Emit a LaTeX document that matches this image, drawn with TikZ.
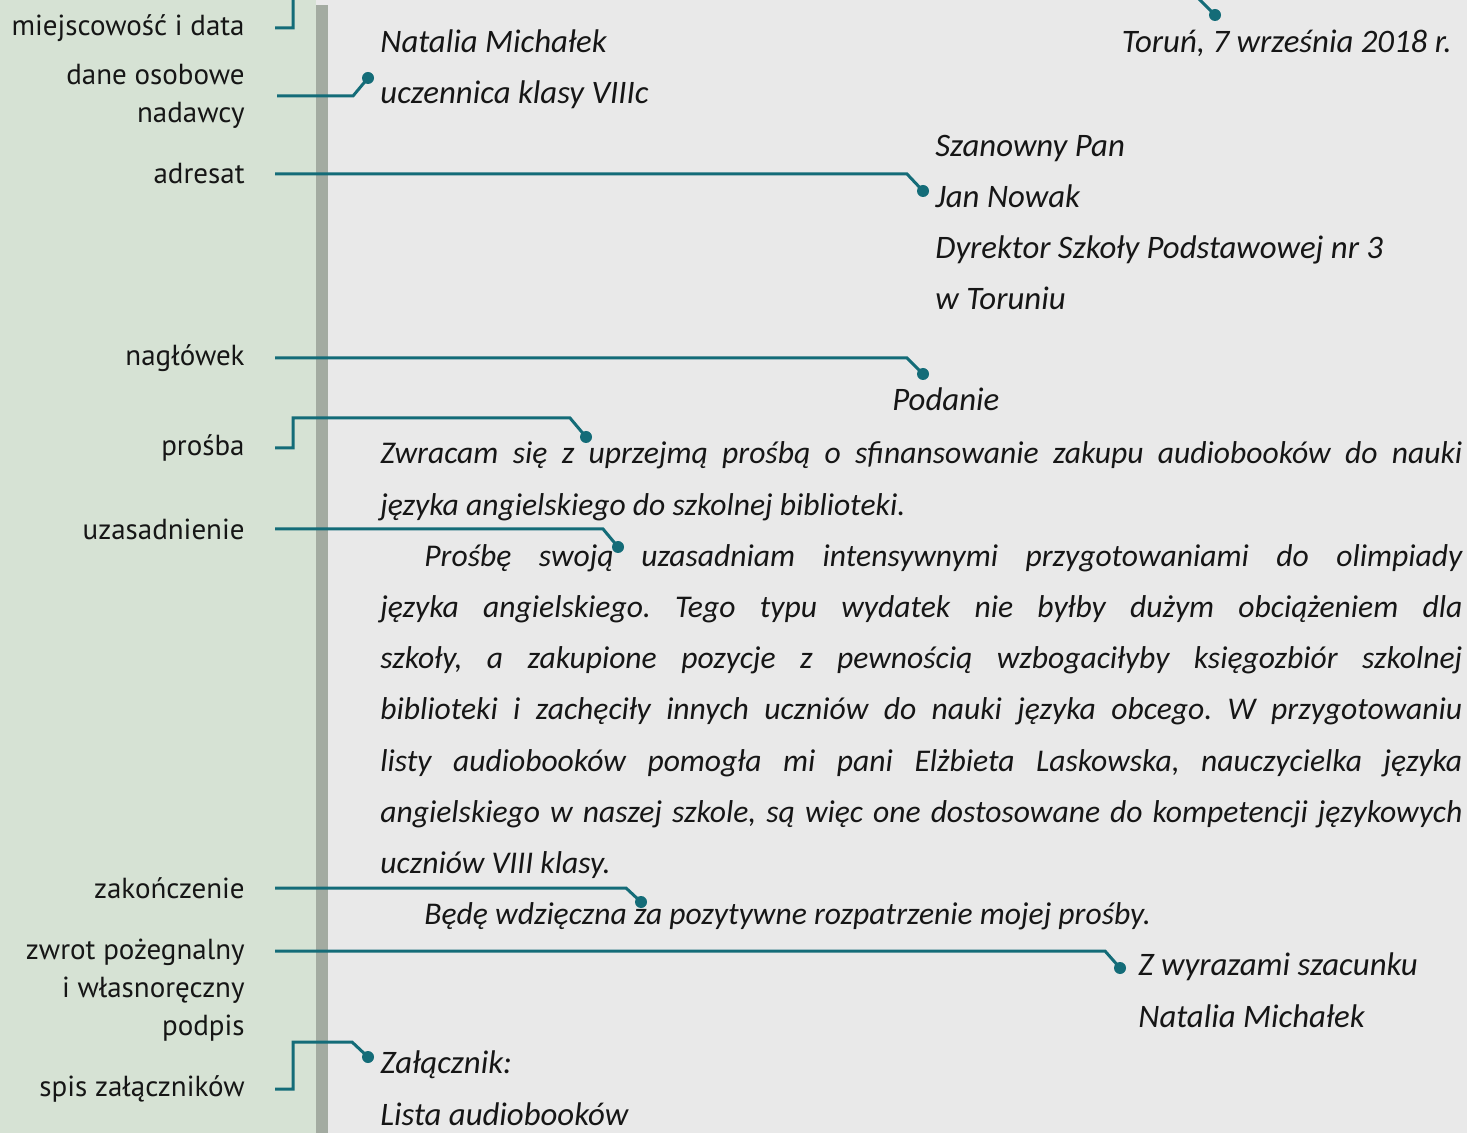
\documentclass[tikz,border=0pt]{standalone}
\usepackage{fontspec}
\setmainfont{Carlito}
\newfontfamily\lblfont{PT Sans}
\usetikzlibrary{calc}
\definecolor{panelgreen}{RGB}{214,226,212}
\definecolor{pagegrey}{RGB}{233,233,233}
\definecolor{bargrey}{RGB}{163,171,161}
\definecolor{tealline}{RGB}{20,108,120}
\definecolor{inkblack}{RGB}{22,22,22}

\tikzset{
  etykieta/.style={anchor=east, inner sep=0pt, align=right, text=inkblack,
    font=\lblfont\fontsize{14.5}{19}\selectfont},
  pismo/.style={inner sep=0pt, text=inkblack,
    font=\itshape\fontsize{16.4}{25.6}\selectfont},
  tresc/.style={pismo, font=\itshape\fontsize{15.8}{25.6}\selectfont\frenchspacing},
  laczenie/.style={draw=tealline, line width=1.5pt},
  kropka/.style={fill=tealline},
}

\begin{document}
\begin{tikzpicture}[x=0.5pt,y=-0.5pt]
        % Tlo
        \useasboundingbox (0,0) rectangle (1467,1133);
        \fill[pagegrey] (0,0) rectangle (1467,1133);
        \fill[panelgreen] (0,0) rectangle (316,1133);
        \fill[bargrey] (316,5) rectangle (328,1133);

        % Etykiety po lewej
        \node[etykieta] (lMiejsce) at (245,28) {miejscowość i data};
        \node[etykieta] (lNadawca) at (245,96) {dane osobowe\\nadawcy};
        \node[etykieta] (lAdresat) at (245,174) {adresat};
        \node[etykieta] (lNaglowek) at (245,358) {nagłówek};
        \node[etykieta] (lProsba) at (245,448) {prośba};
        \node[etykieta] (lUzas) at (245,529) {uzasadnienie};
        \node[etykieta] (lZakon) at (245,888) {zakończenie};
        \node[etykieta] (lZwrot) at (245,990) {zwrot pożegnalny\\i własnoręczny\\podpis};
        \node[etykieta] (lZal) at (245,1089) {spis załączników};

        % Tekst podania (base = ostatnia linia)
        \node[pismo, anchor=base west, align=left] (tNadawca) at (380,104) {Natalia Michałek\\uczennica klasy VIIIc};
        \node[pismo, anchor=base east] (tData) at (1452,53) {Toruń, 7 września 2018 r.};
        \node[pismo, anchor=base west, align=left] (tAdresat) at (935,310) {Szanowny Pan\\Jan Nowak\\Dyrektor Szkoły Podstawowej nr 3\\w Toruniu};
        \node[pismo, anchor=base west] (tTytul) at (892,411) {Podanie};
        \node[tresc, anchor=base west, text width=541pt, align=justify] (tTresc) at (380,464) {Zwracam się z uprzejmą prośbą o sfinansowanie zakupu audiobooków do nauki\linebreak
          języka angielskiego do szkolnej biblioteki.\par
          \hspace*{22pt}Prośbę swoją uzasadniam intensywnymi przygotowaniami do olimpiady\linebreak
          języka angielskiego. Tego typu wydatek nie byłby dużym obciążeniem dla\linebreak
          szkoły, a zakupione pozycje z pewnością wzbogaciłyby księgozbiór szkolnej\linebreak
          biblioteki i zachęciły innych uczniów do nauki języka obcego. W przygotowaniu\linebreak
          listy audiobooków pomogła mi pani Elżbieta Laskowska, nauczycielka języka\linebreak
          angielskiego w naszej szkole, są więc one dostosowane do kompetencji językowych\linebreak
          uczniów VIII klasy.\par
          \hspace*{22pt}Będę wdzięczna za pozytywne rozpatrzenie mojej prośby.};
        \node[pismo, anchor=base west, align=left] (tPodpis) at (1138,1027) {Z wyrazami szacunku\\Natalia Michałek};
        \node[pismo, anchor=base west, align=left] (tZal) at (380,1125) {Załącznik:\\Lista audiobooków};

        % Punkty
        \coordinate (dMiejsce) at (1215,15);
        \coordinate (dNadawca) at (368,78);
        \coordinate (dAdresat) at (923,191);
        \coordinate (dNaglowek) at (923,374);
        \coordinate (dProsba) at (586,437);
        \coordinate (dUzas) at (618,547);
        \coordinate (dZakon) at (641,902);
        \coordinate (dZwrot) at (1120,968);
        \coordinate (dZal) at (368,1057);

        % Polaczenia
        \draw[laczenie] ([xshift=15pt]lMiejsce.east) -- (293,28) -- (293,-20) -- (1180,-20) -- (dMiejsce);
        \draw[laczenie] ([xshift=16pt]lNadawca.east) -- (353,96) -- (dNadawca);
        \draw[laczenie] ([xshift=15pt]lAdresat.east) -- (907,174) -- (dAdresat);
        \draw[laczenie] ([xshift=15pt]lNaglowek.east) -- (907,358) -- (dNaglowek);
        \draw[laczenie] ([xshift=15pt]lProsba.east) -- (293,448) -- (293,418) -- (570,418) -- (dProsba);
        \draw[laczenie] ([xshift=15pt]lUzas.east) -- (603,529) -- (dUzas);
        \draw[laczenie] ([xshift=15pt]lZakon.east) -- (626,888) -- (dZakon);
        \draw[laczenie] ([xshift=15pt]lZwrot.east |- 0,951) -- (1105,951) -- (dZwrot);
        \draw[laczenie] ([xshift=15pt]lZal.east) -- (293,1089) -- (293,1042) -- (352,1042) -- (dZal);
        \foreach \d in {dMiejsce,dNadawca,dAdresat,dNaglowek,dProsba,dUzas,dZakon,dZwrot,dZal}
            \fill[kropka] (\d) circle (3pt);
\end{tikzpicture}
\end{document}
